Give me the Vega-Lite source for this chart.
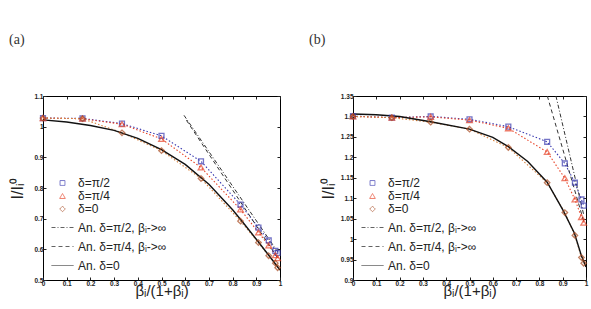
{
  "$schema": "https://vega.github.io/schema/vega-lite/v6.json",
  "padding": {"left": 8, "top": 32, "right": 2, "bottom": 2},
  "background": "white",
  "spacing": 24,
  "config": {
    "font": "Liberation Sans",
    "view": {"stroke": "black", "strokeWidth": 1},
    "axis": {
      "grid": false, "domain": false, "ticks": true, "tickSize": -3, "tickColor": "#222",
      "labelFontSize": 6.5, "labelFontWeight": "bold", "labelColor": "#222", "labelPadding": 3, "labelOverlap": false, "labelFlush": false,
      "titleFont": "Liberation Sans", "titleFontSize": 16, "titleFontWeight": "normal", "titleColor": "#222"
    },
    "legend": {
      "orient": "bottom-left", "offset": 8, "padding": 0, "title": null,
      "labelFont": "Liberation Sans", "labelFontSize": 12, "labelColor": "#222",
      "rowPadding": 1, "labelOffset": 4, "symbolStrokeWidth": 1
    },
    "title": {"font": "Liberation Serif", "fontSize": 14, "fontWeight": "normal", "color": "#333", "anchor": "start", "frame": "group"}
  },
  "datasets": {
    "a": [
      {"s": "δ=π/2", "x": 0, "y": 1.028}, {"s": "δ=π/2", "x": 0.1667, "y": 1.027}, {"s": "δ=π/2", "x": 0.3333, "y": 1.010}, {"s": "δ=π/2", "x": 0.5, "y": 0.970}, {"s": "δ=π/2", "x": 0.6667, "y": 0.887}, {"s": "δ=π/2", "x": 0.8333, "y": 0.746}, {"s": "δ=π/2", "x": 0.9091, "y": 0.671}, {"s": "δ=π/2", "x": 0.9524, "y": 0.629}, {"s": "δ=π/2", "x": 0.9804, "y": 0.595}, {"s": "δ=π/2", "x": 0.9901, "y": 0.588},
      {"s": "δ=π/4", "x": 0, "y": 1.028}, {"s": "δ=π/4", "x": 0.1667, "y": 1.026}, {"s": "δ=π/4", "x": 0.3333, "y": 1.008}, {"s": "δ=π/4", "x": 0.5, "y": 0.960}, {"s": "δ=π/4", "x": 0.6667, "y": 0.867}, {"s": "δ=π/4", "x": 0.8333, "y": 0.730}, {"s": "δ=π/4", "x": 0.9091, "y": 0.655}, {"s": "δ=π/4", "x": 0.9524, "y": 0.613}, {"s": "δ=π/4", "x": 0.9804, "y": 0.581}, {"s": "δ=π/4", "x": 0.9901, "y": 0.571},
      {"s": "δ=0", "x": 0, "y": 1.028}, {"s": "δ=0", "x": 0.1667, "y": 1.026}, {"s": "δ=0", "x": 0.3333, "y": 0.980}, {"s": "δ=0", "x": 0.5, "y": 0.922}, {"s": "δ=0", "x": 0.6667, "y": 0.831}, {"s": "δ=0", "x": 0.8333, "y": 0.692}, {"s": "δ=0", "x": 0.9091, "y": 0.622}, {"s": "δ=0", "x": 0.9524, "y": 0.579}, {"s": "δ=0", "x": 0.9804, "y": 0.555}, {"s": "δ=0", "x": 0.9901, "y": 0.540}
    ],
    "a_an": [
      {"s": "An. δ=0", "x": 0, "y": 1.022}, {"s": "An. δ=0", "x": 0.1, "y": 1.015}, {"s": "An. δ=0", "x": 0.2, "y": 1.004}, {"s": "An. δ=0", "x": 0.3, "y": 0.988}, {"s": "An. δ=0", "x": 0.4, "y": 0.962}, {"s": "An. δ=0", "x": 0.5, "y": 0.925}, {"s": "An. δ=0", "x": 0.6, "y": 0.877}, {"s": "An. δ=0", "x": 0.7, "y": 0.812}, {"s": "An. δ=0", "x": 0.8, "y": 0.729}, {"s": "An. δ=0", "x": 0.85, "y": 0.682}, {"s": "An. δ=0", "x": 0.9, "y": 0.633}, {"s": "An. δ=0", "x": 0.95, "y": 0.583}, {"s": "An. δ=0", "x": 0.98, "y": 0.553}, {"s": "An. δ=0", "x": 1.0, "y": 0.532},
      {"s": "An. δ=π/2, βᵢ->∞", "x": 0.595, "y": 1.037}, {"s": "An. δ=π/2, βᵢ->∞", "x": 0.99, "y": 0.592},
      {"s": "An. δ=π/4, βᵢ->∞", "x": 0.605, "y": 1.021}, {"s": "An. δ=π/4, βᵢ->∞", "x": 0.99, "y": 0.572}
    ],
    "b": [
      {"s": "δ=π/2", "x": 0, "y": 1.301}, {"s": "δ=π/2", "x": 0.1667, "y": 1.297}, {"s": "δ=π/2", "x": 0.3333, "y": 1.300}, {"s": "δ=π/2", "x": 0.5, "y": 1.293}, {"s": "δ=π/2", "x": 0.6667, "y": 1.275}, {"s": "δ=π/2", "x": 0.8333, "y": 1.238}, {"s": "δ=π/2", "x": 0.9091, "y": 1.185}, {"s": "δ=π/2", "x": 0.9524, "y": 1.138}, {"s": "δ=π/2", "x": 0.9804, "y": 1.097}, {"s": "δ=π/2", "x": 0.9901, "y": 1.082},
      {"s": "δ=π/4", "x": 0, "y": 1.300}, {"s": "δ=π/4", "x": 0.1667, "y": 1.297}, {"s": "δ=π/4", "x": 0.3333, "y": 1.299}, {"s": "δ=π/4", "x": 0.5, "y": 1.291}, {"s": "δ=π/4", "x": 0.6667, "y": 1.271}, {"s": "δ=π/4", "x": 0.8333, "y": 1.213}, {"s": "δ=π/4", "x": 0.9091, "y": 1.149}, {"s": "δ=π/4", "x": 0.9524, "y": 1.097}, {"s": "δ=π/4", "x": 0.9804, "y": 1.054}, {"s": "δ=π/4", "x": 0.9901, "y": 1.040},
      {"s": "δ=0", "x": 0, "y": 1.300}, {"s": "δ=0", "x": 0.1667, "y": 1.297}, {"s": "δ=0", "x": 0.3333, "y": 1.286}, {"s": "δ=0", "x": 0.5, "y": 1.269}, {"s": "δ=0", "x": 0.6667, "y": 1.224}, {"s": "δ=0", "x": 0.8333, "y": 1.138}, {"s": "δ=0", "x": 0.9091, "y": 1.065}, {"s": "δ=0", "x": 0.9524, "y": 1.009}, {"s": "δ=0", "x": 0.9804, "y": 0.955}, {"s": "δ=0", "x": 0.9901, "y": 0.941}
    ],
    "b_an": [
      {"s": "An. δ=0", "x": 0, "y": 1.306}, {"s": "An. δ=0", "x": 0.1, "y": 1.304}, {"s": "An. δ=0", "x": 0.2, "y": 1.300}, {"s": "An. δ=0", "x": 0.3333, "y": 1.287}, {"s": "An. δ=0", "x": 0.5, "y": 1.269}, {"s": "An. δ=0", "x": 0.6, "y": 1.249}, {"s": "An. δ=0", "x": 0.6667, "y": 1.226}, {"s": "An. δ=0", "x": 0.75, "y": 1.190}, {"s": "An. δ=0", "x": 0.8333, "y": 1.139}, {"s": "An. δ=0", "x": 0.9, "y": 1.072}, {"s": "An. δ=0", "x": 0.95, "y": 1.015}, {"s": "An. δ=0", "x": 0.98, "y": 0.960}, {"s": "An. δ=0", "x": 1.0, "y": 0.932},
      {"s": "An. δ=π/2, βᵢ->∞", "x": 0.871, "y": 1.35}, {"s": "An. δ=π/2, βᵢ->∞", "x": 0.99, "y": 1.06},
      {"s": "An. δ=π/4, βᵢ->∞", "x": 0.834, "y": 1.35}, {"s": "An. δ=π/4, βᵢ->∞", "x": 0.99, "y": 1.044}
    ]
  },
  "hconcat": [
    {
      "width": 237, "height": 184,
      "title": {"text": "(a)", "dx": -34, "offset": 46},
      "resolve": {"axis": {"x": "independent", "y": "independent"}},
      "layer": [
        {"data": {"name": "a"}, "transform": [{"filter": "datum.s === 'δ=π/2'"}],
         "mark": {"type": "line", "color": "#3a3ab0", "strokeDash": [1.5, 2], "strokeWidth": 1.1},
         "encoding": {
           "x": {"field": "x", "type": "quantitative", "scale": {"domain": [0, 1], "nice": false, "zero": false}, "axis": {"orient": "bottom", "values": [0,0.1,0.2,0.3,0.4,0.5,0.6,0.7,0.8,0.9,1], "format": "~g", "title": "βᵢ/(1+βᵢ)", "titlePadding": -3, "titleFontSize": 15}},
           "y": {"field": "y", "type": "quantitative", "scale": {"domain": [0.5, 1.1], "nice": false, "zero": false}, "axis": {"orient": "left", "values": [0.5,0.6,0.7,0.8,0.9,1,1.1], "format": "~g", "title": "I/Iᵢ⁰", "titlePadding": 8}}
         }},
        {"data": {"name": "a"}, "transform": [{"filter": "datum.s === 'δ=π/4'"}],
         "mark": {"type": "line", "color": "#e8452a", "strokeDash": [1.5, 2], "strokeWidth": 1.1},
         "encoding": {
           "x": {"field": "x", "type": "quantitative", "axis": {"orient": "top", "values": [0,0.1,0.2,0.3,0.4,0.5,0.6,0.7,0.8,0.9,1], "labels": false, "title": null}},
           "y": {"field": "y", "type": "quantitative", "axis": {"orient": "right", "values": [0.5,0.6,0.7,0.8,0.9,1,1.1], "labels": false, "title": null}}
         }},
        {"data": {"name": "a"}, "transform": [{"filter": "datum.s === 'δ=0'"}],
         "mark": {"type": "line", "color": "#d9803a", "strokeDash": [1.5, 2], "strokeWidth": 1.1},
         "encoding": {"x": {"field": "x", "type": "quantitative", "axis": null}, "y": {"field": "y", "type": "quantitative", "axis": null}}},
        {"data": {"name": "a_an"}, "transform": [{"filter": "datum.s === 'An. δ=0'"}],
         "mark": {"type": "line", "color": "#111", "strokeWidth": 1.4},
         "encoding": {"x": {"field": "x", "type": "quantitative", "axis": null}, "y": {"field": "y", "type": "quantitative", "axis": null}}},
        {"data": {"name": "a_an"}, "transform": [{"filter": "datum.s === 'An. δ=π/2, βᵢ->∞'"}],
         "mark": {"type": "line", "color": "#333", "strokeDash": [4, 2, 1, 2], "strokeWidth": 1},
         "encoding": {"x": {"field": "x", "type": "quantitative", "axis": null}, "y": {"field": "y", "type": "quantitative", "axis": null}}},
        {"data": {"name": "a_an"}, "transform": [{"filter": "datum.s === 'An. δ=π/4, βᵢ->∞'"}],
         "mark": {"type": "line", "color": "#333", "strokeDash": [4, 3], "strokeWidth": 1},
         "encoding": {"x": {"field": "x", "type": "quantitative", "axis": null}, "y": {"field": "y", "type": "quantitative", "axis": null}}},
        {"data": {"name": "a"},
         "mark": {"type": "point", "filled": false, "strokeWidth": 1.3},
         "encoding": {
           "x": {"field": "x", "type": "quantitative", "axis": null},
           "y": {"field": "y", "type": "quantitative", "axis": null},
           "color": {"field": "s", "type": "nominal", "scale": {"domain": ["δ=π/2", "δ=π/4", "δ=0", "An. δ=π/2, βᵢ->∞", "An. δ=π/4, βᵢ->∞", "An. δ=0"], "range": ["#3a3ab0", "#e8452a", "#a84a20", "#222", "#222", "#222"]}},
           "shape": {"field": "s", "type": "nominal", "scale": {"domain": ["δ=π/2", "δ=π/4", "δ=0", "An. δ=π/2, βᵢ->∞", "An. δ=π/4, βᵢ->∞", "An. δ=0"], "range": ["square", "triangle-up", "diamond", "stroke", "stroke", "stroke"]}},
           "size": {"field": "s", "type": "nominal", "scale": {"type": "ordinal", "domain": ["δ=π/2", "δ=π/4", "δ=0", "An. δ=π/2, βᵢ->∞", "An. δ=π/4, βᵢ->∞", "An. δ=0"], "range": [24, 32, 30, 484, 484, 484]}},
           "strokeDash": {"field": "s", "type": "nominal", "scale": {"domain": ["δ=π/2", "δ=π/4", "δ=0", "An. δ=π/2, βᵢ->∞", "An. δ=π/4, βᵢ->∞", "An. δ=0"], "range": [[1, 0], [1, 0], [1, 0], [4, 2, 1, 2], [4, 3], [1, 0]]}}
         }}
      ]
    },
    {
      "width": 233, "height": 184,
      "title": {"text": "(b)", "dx": -44, "offset": 46},
      "resolve": {"axis": {"x": "independent", "y": "independent"}},
      "layer": [
        {"data": {"name": "b"}, "transform": [{"filter": "datum.s === 'δ=π/2'"}],
         "mark": {"type": "line", "color": "#3a3ab0", "strokeDash": [1.5, 2], "strokeWidth": 1.1},
         "encoding": {
           "x": {"field": "x", "type": "quantitative", "scale": {"domain": [0, 1], "nice": false, "zero": false}, "axis": {"orient": "bottom", "values": [0,0.1,0.2,0.3,0.4,0.5,0.6,0.7,0.8,0.9,1], "format": "~g", "title": "βᵢ/(1+βᵢ)", "titlePadding": -3, "titleFontSize": 15}},
           "y": {"field": "y", "type": "quantitative", "scale": {"domain": [0.9, 1.35], "nice": false, "zero": false}, "axis": {"orient": "left", "values": [0.9,0.95,1,1.05,1.1,1.15,1.2,1.25,1.3,1.35], "format": "~g", "title": "I/Iᵢ⁰", "titlePadding": 4}}
         }},
        {"data": {"name": "b"}, "transform": [{"filter": "datum.s === 'δ=π/4'"}],
         "mark": {"type": "line", "color": "#e8452a", "strokeDash": [1.5, 2], "strokeWidth": 1.1},
         "encoding": {
           "x": {"field": "x", "type": "quantitative", "axis": {"orient": "top", "values": [0,0.1,0.2,0.3,0.4,0.5,0.6,0.7,0.8,0.9,1], "labels": false, "title": null}},
           "y": {"field": "y", "type": "quantitative", "axis": {"orient": "right", "values": [0.9,0.95,1,1.05,1.1,1.15,1.2,1.25,1.3,1.35], "labels": false, "title": null}}
         }},
        {"data": {"name": "b"}, "transform": [{"filter": "datum.s === 'δ=0'"}],
         "mark": {"type": "line", "color": "#d9803a", "strokeDash": [1.5, 2], "strokeWidth": 1.1},
         "encoding": {"x": {"field": "x", "type": "quantitative", "axis": null}, "y": {"field": "y", "type": "quantitative", "axis": null}}},
        {"data": {"name": "b_an"}, "transform": [{"filter": "datum.s === 'An. δ=0'"}],
         "mark": {"type": "line", "color": "#111", "strokeWidth": 1.4},
         "encoding": {"x": {"field": "x", "type": "quantitative", "axis": null}, "y": {"field": "y", "type": "quantitative", "axis": null}}},
        {"data": {"name": "b_an"}, "transform": [{"filter": "datum.s === 'An. δ=π/2, βᵢ->∞'"}],
         "mark": {"type": "line", "color": "#333", "strokeDash": [4, 2, 1, 2], "strokeWidth": 1},
         "encoding": {"x": {"field": "x", "type": "quantitative", "axis": null}, "y": {"field": "y", "type": "quantitative", "axis": null}}},
        {"data": {"name": "b_an"}, "transform": [{"filter": "datum.s === 'An. δ=π/4, βᵢ->∞'"}],
         "mark": {"type": "line", "color": "#333", "strokeDash": [4, 3], "strokeWidth": 1},
         "encoding": {"x": {"field": "x", "type": "quantitative", "axis": null}, "y": {"field": "y", "type": "quantitative", "axis": null}}},
        {"data": {"name": "b"},
         "mark": {"type": "point", "filled": false, "strokeWidth": 1.3},
         "encoding": {
           "x": {"field": "x", "type": "quantitative", "axis": null},
           "y": {"field": "y", "type": "quantitative", "axis": null},
           "color": {"field": "s", "type": "nominal", "scale": {"domain": ["δ=π/2", "δ=π/4", "δ=0", "An. δ=π/2, βᵢ->∞", "An. δ=π/4, βᵢ->∞", "An. δ=0"], "range": ["#3a3ab0", "#e8452a", "#a84a20", "#222", "#222", "#222"]}},
           "shape": {"field": "s", "type": "nominal", "scale": {"domain": ["δ=π/2", "δ=π/4", "δ=0", "An. δ=π/2, βᵢ->∞", "An. δ=π/4, βᵢ->∞", "An. δ=0"], "range": ["square", "triangle-up", "diamond", "stroke", "stroke", "stroke"]}},
           "size": {"field": "s", "type": "nominal", "scale": {"type": "ordinal", "domain": ["δ=π/2", "δ=π/4", "δ=0", "An. δ=π/2, βᵢ->∞", "An. δ=π/4, βᵢ->∞", "An. δ=0"], "range": [24, 32, 30, 484, 484, 484]}},
           "strokeDash": {"field": "s", "type": "nominal", "scale": {"domain": ["δ=π/2", "δ=π/4", "δ=0", "An. δ=π/2, βᵢ->∞", "An. δ=π/4, βᵢ->∞", "An. δ=0"], "range": [[1, 0], [1, 0], [1, 0], [4, 2, 1, 2], [4, 3], [1, 0]]}}
         }}
      ]
    }
  ],
  "resolve": {"scale": {"color": "independent", "shape": "independent", "size": "independent", "strokeDash": "independent"}, "legend": {"color": "independent", "shape": "independent", "size": "independent", "strokeDash": "independent"}}
}
